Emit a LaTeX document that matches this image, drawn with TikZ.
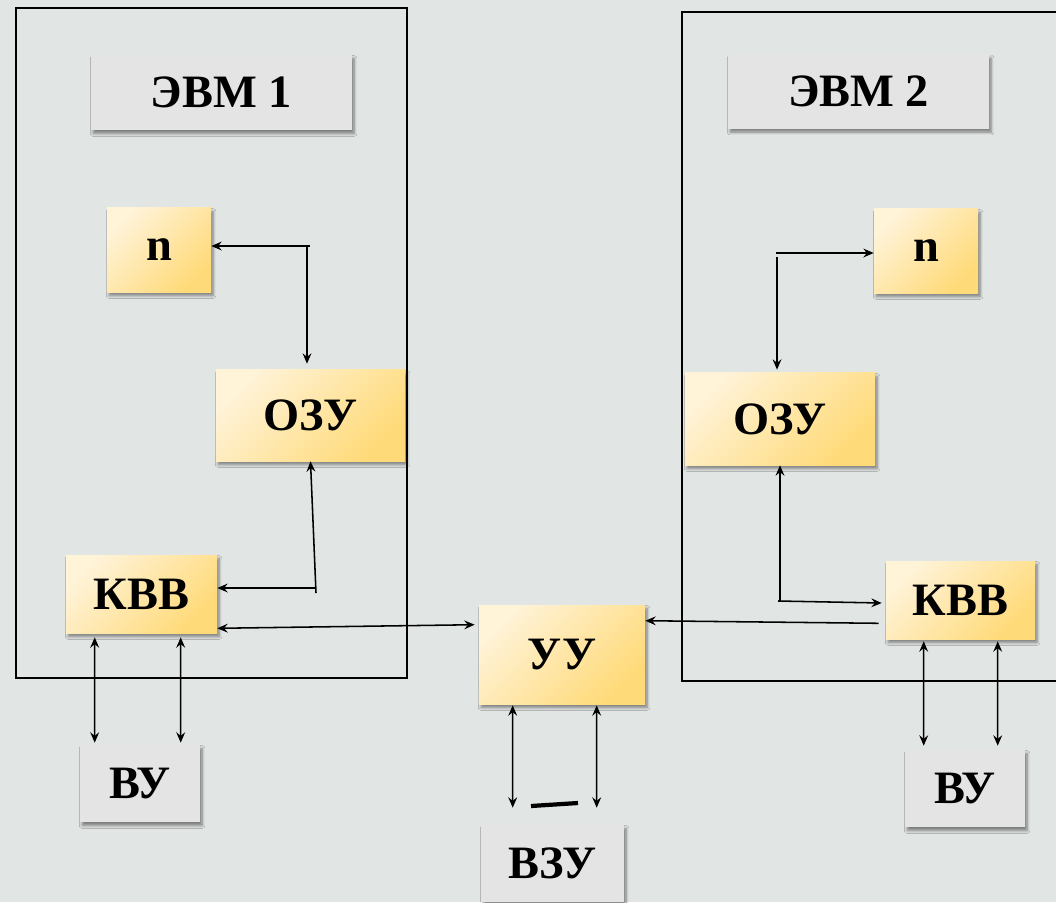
\documentclass[tikz,border=0pt]{standalone}
\usepackage{fontspec}
\setmainfont{Liberation Serif}
\usepackage{tikz}
\usetikzlibrary{positioning,calc,arrows.meta,shadows.blur}

\definecolor{bgcol}{HTML}{E1E5E4}
\definecolor{boxgrey}{HTML}{E4E4E4}
\definecolor{ylight}{HTML}{FFF3D8}
\definecolor{ydark}{HTML}{FFDA78}

\tikzset{
  boxshadow/.style={blur shadow={shadow xshift=1.5pt, shadow yshift=-2.5pt,
                    shadow blur steps=6, shadow blur radius=2pt, shadow opacity=45}},
  ybox/.style={boxshadow, left color=ylight, right color=ydark, shading angle=45,
               inner sep=0pt, font=\fontsize{33}{36}\selectfont\bfseries},
  gbox/.style={boxshadow, fill=boxgrey,
               inner sep=0pt, font=\fontsize{33}{36}\selectfont\bfseries},
  frame/.style={draw=black, line width=1.8pt},
  arr/.style={-{Stealth[length=2.6mm,width=2.2mm,inset=0.9mm]}, line width=1.1pt},
  dbl/.style={{Stealth[length=2.6mm,width=2.2mm,inset=0.9mm]}-{Stealth[length=2.6mm,width=2.2mm,inset=0.9mm]}, line width=1.1pt}
}

\begin{document}
\begin{tikzpicture}[x=0.025cm, y=-0.025cm]
\clip (0,0) rectangle (1056,902);
\fill[bgcol] (0,0) rectangle (1056,902);

% the two computers
\draw[frame] (16,8) rectangle (407,678);
\draw[frame] (682,12) rectangle (1080,681);

\node[gbox, minimum width=6.525cm, minimum height=1.875cm] (evm1) at (221.5,92.5) {ЭВМ 1};
\node[gbox, minimum width=6.525cm, minimum height=1.85cm] (evm2) at (858.5,91.5) {ЭВМ 2};

\node[ybox, minimum width=2.6cm, minimum height=2.1cm] (n1) at (159,250) {n};
\node[ybox, minimum width=4.725cm, minimum height=2.275cm] (ozu1) at (310.5,415.5) {ОЗУ};
\node[ybox, minimum width=3.775cm, minimum height=1.95cm] (kvv1) at (141.5,594) {КВВ};

\node[ybox, minimum width=2.6cm, minimum height=2.1cm] (n2) at (926,251) {n};
\node[ybox, minimum width=4.75cm, minimum height=2.3cm] (ozu2) at (780,419) {ОЗУ};
\node[ybox, minimum width=3.725cm, minimum height=1.95cm] (kvv2) at (960.5,600) {КВВ};

\node[ybox, minimum width=4.15cm, minimum height=2.475cm] (uu) at (562,654.5) {УУ};

\node[gbox, minimum width=3cm, minimum height=1.925cm] (vu1) at (140,783.5) {ВУ};
\node[gbox, minimum width=3cm, minimum height=1.925cm] (vu2) at (965,788.5) {ВУ};
\node[gbox, minimum width=3.575cm, minimum height=1.925cm] (vzu) at (552.5,863.5) {ВЗУ};

% ЭВМ 1
\coordinate (t1) at (310,246);
\coordinate (t1v) at (307,246);
\draw[arr] (t1) -- (t1 -| n1.east);
\draw[arr] (t1v) -- ($(t1v |- ozu1.north)+(0,-6)$);
\coordinate (b1) at (316,593);
\coordinate (b1h) at (316,588);
\draw[arr] (b1) -- (ozu1.south);
\draw[arr] (b1h) -- (b1h -| kvv1.east);
\draw[dbl] ($(kvv1.south east)+(0,-5)$) -- ($(uu.north west)+(-4,20)$);
\draw[dbl] ($(kvv1.south west)+(29,4)$) -- ($(vu1.north west)+(15,-2)$);
\draw[dbl] ($(kvv1.south west)+(115,4)$) -- ($(vu1.north west)+(101,-2)$);

% ЭВМ 2
\coordinate (t2) at (776,253);
\coordinate (t2v) at (777,257);
\draw[arr] (t2) -- (t2 -| n2.west);
\draw[arr] (t2v) -- ($(t2v |- ozu2.north)+(0,-3)$);
\coordinate (b2) at (780,602);
\coordinate (b2h) at (778,601);
\draw[arr] (b2) -- (b2 |- ozu2.south);
\draw[arr] (b2h) -- ($(kvv2.west)+(-4,3)$);
\draw[arr] ($(kvv2.south west)+(-7,-16)$) -- ($(uu.north east)+(0,16)$);
\draw[dbl] ($(kvv2.south west)+(38,2)$) -- ($(vu2.north west)+(19,-4)$);
\draw[dbl] ($(kvv2.south west)+(112,2)$) -- ($(vu2.north west)+(93,-4)$);

% УУ -- ВЗУ
\draw[dbl] ($(uu.south west)+(34,1)$) -- ($(vzu.north west)+(32,-17)$);
\draw[dbl] ($(uu.south west)+(118,1)$) -- ($(vzu.north west)+(116,-17)$);
\coordinate (d1) at (531,806);
\coordinate (d2) at (578,803);
\draw[line width=3pt] (d1) -- (d2);

\end{tikzpicture}
\end{document}
